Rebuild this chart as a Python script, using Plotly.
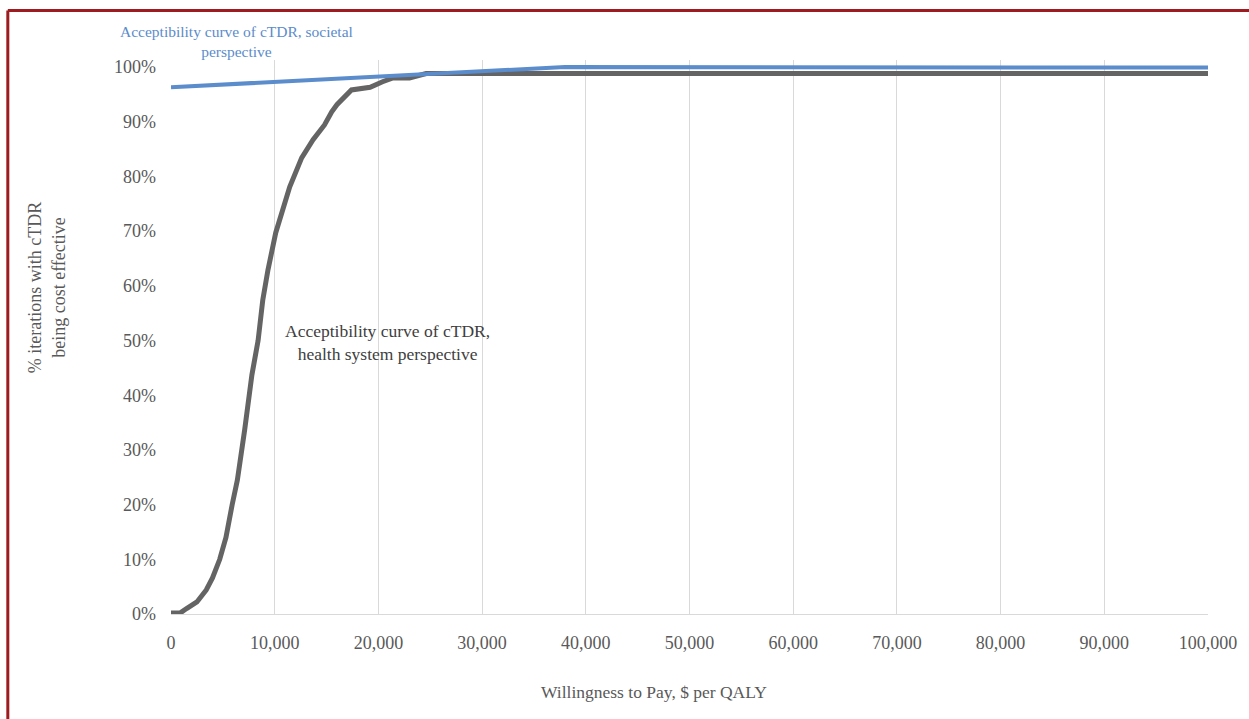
import plotly.graph_objects as go

# Health system perspective acceptability curve
wtp_hs = [0, 900, 1500, 2500, 3400, 4000, 4700, 5300, 5900, 6400, 7100, 7800, 8400,
          8850, 9350, 10100, 11450, 12600, 13700, 14800, 15500, 16000, 17400, 18500,
          19200, 20400, 21400, 23000, 24600, 100000]
pct_hs = [0.2, 0.2, 1.0, 2.2, 4.4, 6.6, 10, 14, 20, 24.5, 33.6, 43.7, 50,
          57.4, 62.9, 69.7, 78.1, 83.4, 86.7, 89.4, 91.8, 93.1, 95.8, 96.2,
          96.3, 97.3, 98.0, 98.0, 98.8, 98.8]

# Societal perspective acceptability curve
wtp_soc = [0, 38000, 100000]
pct_soc = [96.3, 100.0, 99.9]

x_ticks = [0, 10000, 20000, 30000, 40000, 50000, 60000, 70000, 80000, 90000, 100000]
y_ticks = [0, 10, 20, 30, 40, 50, 60, 70, 80, 90, 100]
y_labels = [f"{v}%" for v in y_ticks]

W, H = 1249, 719
L, R, T, B = 171, 39, 60, 105
pw, ph = W - L - R, H - T - B

def px(xpix):
    return (xpix - L) / pw

def py(ypix):
    return (H - B - ypix) / ph

FONT = "Liberation Serif"
GRAY = "#595959"
BLUE = "#5b8ccb"

fig = go.Figure()
fig.add_trace(go.Scatter(x=wtp_hs, y=pct_hs, mode="lines",
                         line=dict(color="#646464", width=5), showlegend=False))
fig.add_trace(go.Scatter(x=wtp_soc, y=pct_soc, mode="lines",
                         line=dict(color=BLUE, width=4), showlegend=False))

ymax = 100 * (H - B - T) / (H - B - 67)

def ann(text, x, y, size, color, angle=0):
    return dict(text=text, xref="paper", yref="paper", x=px(x), y=py(y),
                xanchor="center", yanchor="middle", showarrow=False,
                textangle=angle, font=dict(family=FONT, size=size, color=color))

fig.update_layout(
    width=W, height=H,
    margin=dict(l=L, r=R, t=T, b=B),
    paper_bgcolor="white", plot_bgcolor="white",
    font=dict(family=FONT, size=18, color=GRAY),
    xaxis=dict(range=[0, 100000], tickvals=x_ticks, tickformat=",d",
               showgrid=True, gridcolor="#d9d9d9", gridwidth=1,
               showline=True, linecolor="#d9d9d9", linewidth=1,
               zeroline=False, ticks="", ticklabelstandoff=12),
    yaxis=dict(range=[0, ymax], tickvals=y_ticks, ticktext=y_labels,
               showgrid=False, zeroline=False, showline=False, ticks="",
               ticklabelstandoff=14),
    shapes=[
        dict(type="line", xref="paper", yref="paper",
             x0=px(7.5), x1=px(1260), y0=py(10.5), y1=py(10.5),
             line=dict(color="#9e1c20", width=3)),
        dict(type="line", xref="paper", yref="paper",
             x0=px(7.5), x1=px(7.5), y0=py(10.5), y1=py(730),
             line=dict(color="#9e1c20", width=3)),
    ],
    annotations=[
        ann("Willingness to Pay, $ per QALY", 655, 692, 17.5, GRAY),
        ann("% iterations with cTDR<br>being cost effective", 46, 288, 18, GRAY, -90),
        ann("Acceptibility curve of cTDR, societal<br>perspective", 237, 42, 15.5, BLUE),
        ann("Acceptibility curve of cTDR,<br>health system perspective", 388, 342, 17.5, "#404040"),
    ],
)

fig.write_html("out.html", config={"displayModeBar": False},
               post_script="document.body.style.margin='0';document.body.style.overflow='hidden';")
